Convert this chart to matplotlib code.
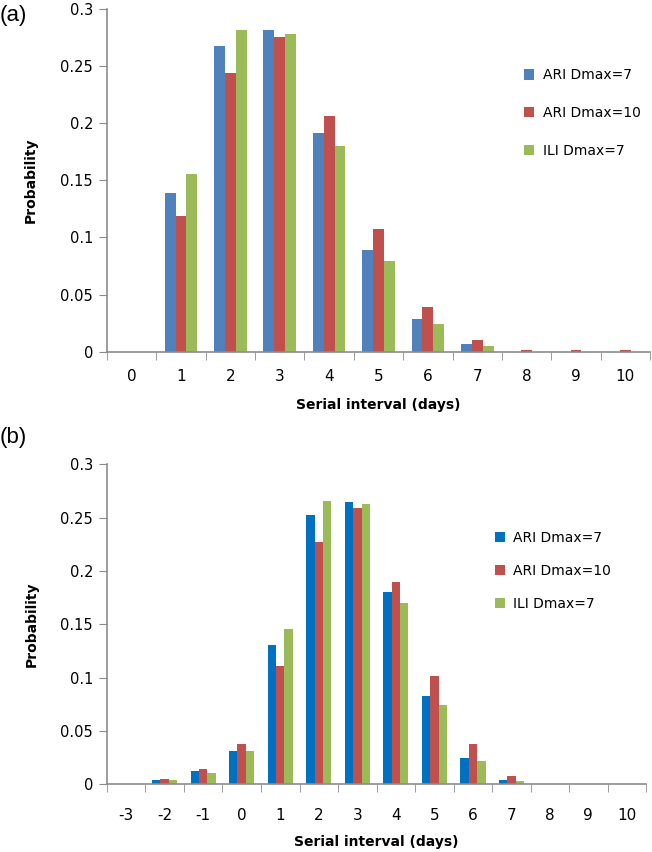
import numpy as np
import matplotlib.pyplot as plt

# panel (a): serial interval 0..10
days_a = [0, 1, 2, 3, 4, 5, 6, 7, 8, 9, 10]
ari7_a = [0, 0.139, 0.267, 0.281, 0.191, 0.089, 0.029, 0.0067, 0, 0, 0]
ari10_a = [0, 0.119, 0.244, 0.275, 0.206, 0.107, 0.039, 0.010, 0.0015, 0.0015, 0.0015]
ili7_a = [0, 0.155, 0.281, 0.278, 0.180, 0.079, 0.024, 0.005, 0, 0, 0]

# panel (b): serial interval -3..10
days_b = [-3, -2, -1, 0, 1, 2, 3, 4, 5, 6, 7, 8, 9, 10]
ari7_b = [0, 0.004, 0.012, 0.031, 0.131, 0.2525, 0.265, 0.180, 0.083, 0.025, 0.004, 0, 0, 0]
ari10_b = [0, 0.0053, 0.0147, 0.0375, 0.111, 0.227, 0.259, 0.190, 0.1016, 0.0375, 0.008, 0, 0, 0]
ili7_b = [0, 0.004, 0.0106, 0.031, 0.146, 0.266, 0.263, 0.170, 0.074, 0.0216, 0.003, 0, 0, 0]

labels = ['ARI Dmax=7', 'ARI Dmax=10', 'ILI Dmax=7']
yticks = [0, 0.05, 0.1, 0.15, 0.2, 0.25, 0.3]
ytick_labels = ['0', '0.05', '0.1', '0.15', '0.2', '0.25', '0.3']

plt.rcParams['font.family'] = 'DejaVu Sans'
axis_col = '#8c8c8c'

fig = plt.figure(figsize=(6.52, 8.52), dpi=100)


def panel(rect, days, series, colors, tag, tagy, leg_anchor, leg_space, tickpad, xlab_y):
    ax = fig.add_axes(rect)
    x = np.arange(len(days))
    w = 0.22
    for k, (vals, c, lab) in enumerate(zip(series, colors, labels)):
        ax.bar(x + (k - 1) * w, vals, width=w, color=c, label=lab)
    ax.set_xlim(-0.5, len(days) - 0.5)
    ax.set_ylim(0, 0.3)
    ax.set_yticks(yticks)
    ax.set_yticklabels(ytick_labels)
    ax.set_xticks(x)
    ax.set_xticklabels([str(d) for d in days])
    ax.set_xticks(np.arange(len(days) + 1) - 0.5, minor=True)
    ax.tick_params(axis='x', which='major', length=0, pad=tickpad, labelsize=11)
    ax.tick_params(axis='x', which='minor', length=6, color=axis_col, direction='out')
    ax.tick_params(axis='y', length=6, color=axis_col, labelsize=10.5, pad=4)
    for s in ['top', 'right']:
        ax.spines[s].set_visible(False)
    for s in ['left', 'bottom']:
        ax.spines[s].set_color(axis_col)
        ax.spines[s].set_linewidth(1.2)
    ax.set_ylabel('Probability', fontweight='bold', fontsize=10)
    ax.yaxis.set_label_coords(-0.127, 0.5)
    ax.set_xlabel('Serial interval (days)', fontweight='bold', fontsize=10)
    ax.xaxis.set_label_coords(0.5, xlab_y)
    ax.xaxis.label.set_va('center')
    ax.legend(loc='center left', bbox_to_anchor=leg_anchor, bbox_transform=fig.transFigure,
              frameon=False, fontsize=10, handlelength=0.75, handleheight=0.75,
              handletextpad=0.6, labelspacing=leg_space, borderaxespad=0)
    fig.text(0.0, tagy, tag, fontsize=16, family='Liberation Sans', va='center', ha='left')
    return ax


panel([0.164, 0.587, 0.833, 0.403], days_a, [ari7_a, ari10_a, ili7_a],
      ['#4f81bd', '#c0504d', '#9bbb59'], '(a)', 0.982,
      (0.795, 1 - 113 / 852), 1.7, 12, -0.154)

panel([0.164, 0.0795, 0.827, 0.3755], days_b, [ari7_b, ari10_b, ili7_b],
      ['#0070c0', '#c0504d', '#9bbb59'], '(b)', 1 - 437 / 852,
      (0.750, 1 - 571 / 852), 1.35, 17, -0.18)

fig.savefig('out.png', dpi=100)
